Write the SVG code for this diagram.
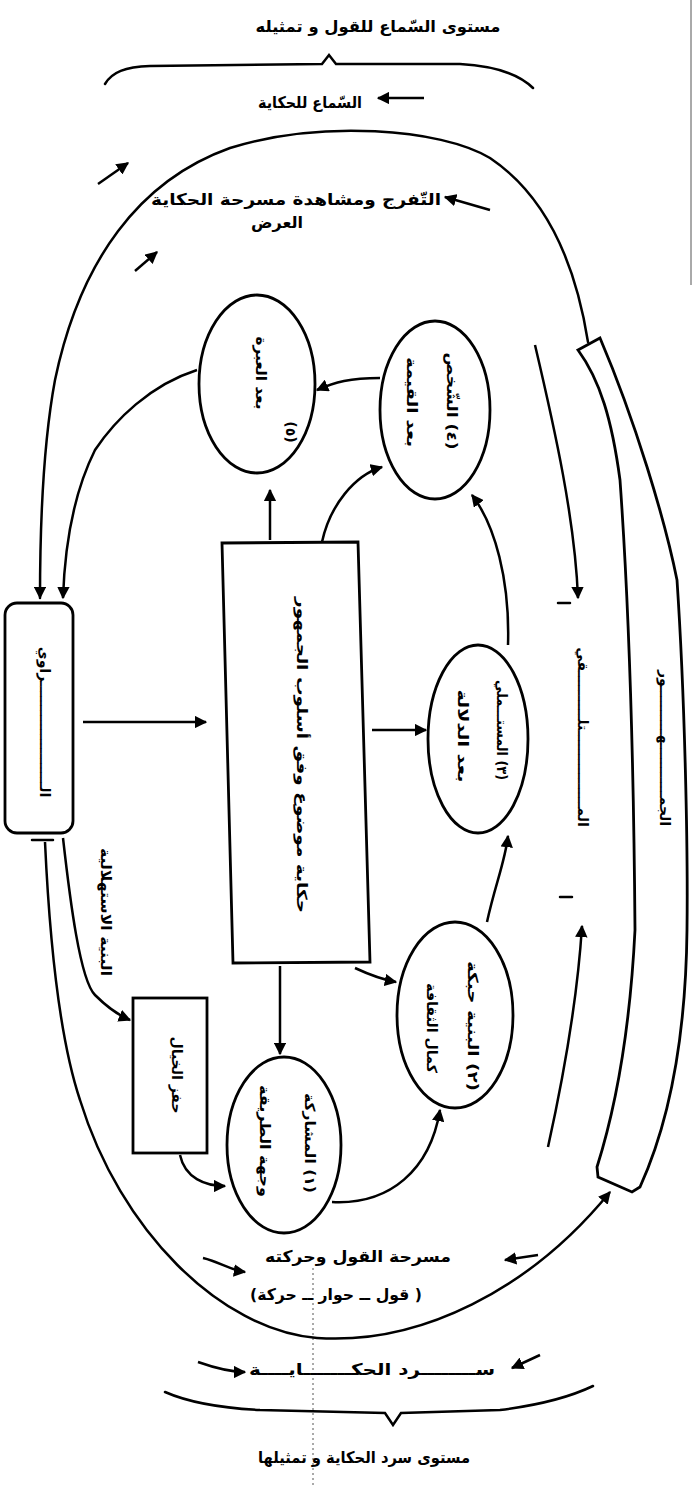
<svg xmlns="http://www.w3.org/2000/svg" width="695" height="1485" viewBox="0 0 695 1485">
<defs>
<marker id="ah" viewBox="0 0 10 10" refX="9" refY="5" markerWidth="5" markerHeight="5" orient="auto-start-reverse" markerUnits="strokeWidth"><path d="M0,0 L10,5 L0,10 z" fill="#000"/></marker>
<style>
.ln{fill:none;stroke:#000;stroke-width:2.5;stroke-linecap:round}
.ar{fill:none;stroke:#000;stroke-width:2.5;marker-end:url(#ah)}
.nd{fill:#fff;stroke:#000;stroke-width:2.8}
.t{font-family:"DejaVu Sans",sans-serif;font-size:16px;fill:#000;font-weight:bold}
.v{font-family:"DejaVu Sans",sans-serif;font-size:14px;fill:#000;font-weight:bold}
.scan{fill:none;stroke:#555;stroke-width:1}
</style>
</defs>
<rect width="695" height="1485" fill="#fff"/>

<g id="scan-marks">
<line class="scan" x1="691" y1="0" x2="691" y2="285"/>
<line class="scan" x1="313" y1="1268" x2="313" y2="1485" stroke-dasharray="2 3"/>
</g>

<g id="labels">
<text class="t" x="378" y="32" text-anchor="middle" direction="rtl" textLength="245" lengthAdjust="spacingAndGlyphs">مستوى السّماع للقول و تمثيله</text>
<text class="t" x="310" y="108" text-anchor="middle" direction="rtl" textLength="104" lengthAdjust="spacingAndGlyphs">السّماع للحكاية</text>
<text class="t" x="296" y="205" text-anchor="middle" direction="rtl" textLength="290" lengthAdjust="spacingAndGlyphs">التّفرج ومشاهدة مسرحة الحكاية</text>
<text class="t" x="277" y="228" text-anchor="middle" direction="rtl">العرض</text>
<text class="t" x="358" y="1262" text-anchor="middle" direction="rtl" textLength="186" lengthAdjust="spacingAndGlyphs">مسرحة القول وحركته</text>
<text class="t" x="336" y="1300" text-anchor="middle" direction="rtl" textLength="172" lengthAdjust="spacingAndGlyphs">( قول ــ حوار ــ حركة)</text>
<text class="t" x="372" y="1375" text-anchor="middle" direction="rtl" textLength="246" lengthAdjust="spacingAndGlyphs">ســــــــرد الحكـــــــايــــة</text>
<text class="t" x="364" y="1463" text-anchor="middle" direction="rtl" textLength="212" lengthAdjust="spacingAndGlyphs">مستوى سرد الحكاية و تمثيلها</text>
<text class="v" transform="translate(101,912) rotate(90)" text-anchor="middle" direction="rtl" textLength="128" lengthAdjust="spacingAndGlyphs">البنية الاستهلالية</text>
<text class="v" transform="translate(578,737) rotate(90)" text-anchor="middle" direction="rtl">المــــــــــــــــتلــــــــــقي</text>
</g>

<g id="braces">
<path class="ln" d="M105,84 C112,72 125,67 150,66 L322,64 L329,55 L336,64 L460,64 C495,66 520,75 533,88"/>
<path class="ln" d="M165,1392 C190,1403 220,1408 260,1410 L385,1413 L393,1425 L401,1413 L500,1410 C540,1405 570,1397 593,1386"/>
</g>

<g id="node-rawi">
<rect class="nd" x="5" y="603" width="68" height="230" rx="12"/>
<text class="v" transform="translate(40,722) rotate(90)" text-anchor="middle" direction="rtl">الــــــــــــــــــــــراوي</text>
</g>

<g id="node-center">
<polygon class="nd" points="222,543 358,542 370,962 233,963"/>
<text class="v" transform="translate(297,755) rotate(90)" text-anchor="middle" direction="rtl" textLength="316" lengthAdjust="spacingAndGlyphs">حكاية موضوع وفق أسلوب الجمهور</text>
</g>

<g id="node-small">
<rect class="nd" x="133" y="998" width="74" height="155"/>
<text class="v" transform="translate(172,1075) rotate(90)" text-anchor="middle" direction="rtl">حفز الخيال</text>
</g>

<g id="node-e1">
<ellipse class="nd" cx="284" cy="1145" rx="57" ry="88"/>
<text class="v" transform="translate(305,1143) rotate(90)" text-anchor="middle" direction="rtl" textLength="100" lengthAdjust="spacingAndGlyphs">(١) المشاركة</text>
<text class="v" transform="translate(260,1141) rotate(90)" text-anchor="middle" direction="rtl" textLength="112" lengthAdjust="spacingAndGlyphs">وجهة الطريقة</text>
</g>

<g id="node-e2">
<ellipse class="nd" cx="455" cy="1015" rx="58" ry="93"/>
<text class="v" transform="translate(468,1026) rotate(90)" text-anchor="middle" direction="rtl" textLength="130" lengthAdjust="spacingAndGlyphs">(٢) البنية حبكة</text>
<text class="v" transform="translate(427,1028) rotate(90)" text-anchor="middle" direction="rtl" textLength="90" lengthAdjust="spacingAndGlyphs">كمال الثقافة</text>
</g>

<g id="node-e3">
<ellipse class="nd" cx="478" cy="739" rx="50" ry="94"/>
<text class="v" transform="translate(497,730) rotate(90)" text-anchor="middle" direction="rtl" textLength="100" lengthAdjust="spacingAndGlyphs">(٣) المستـــملي</text>
<text class="v" transform="translate(458,736) rotate(90)" text-anchor="middle" direction="rtl" textLength="93" lengthAdjust="spacingAndGlyphs">بعد الدلالة</text>
</g>

<g id="node-e4">
<ellipse class="nd" cx="435" cy="410" rx="55" ry="89"/>
<text class="v" transform="translate(447,401) rotate(90)" text-anchor="middle" direction="rtl" textLength="97" lengthAdjust="spacingAndGlyphs">(٤) الشّخص</text>
<text class="v" transform="translate(407,402) rotate(90)" text-anchor="middle" direction="rtl" textLength="90" lengthAdjust="spacingAndGlyphs">بعد القيمة</text>
</g>

<g id="node-e5">
<ellipse class="nd" cx="257" cy="384" rx="58" ry="89"/>
<text class="v" transform="translate(256,373) rotate(90)" text-anchor="middle" direction="rtl" textLength="73" lengthAdjust="spacingAndGlyphs">بعد العبرة</text>
<text class="v" transform="translate(286,432) rotate(90)" text-anchor="middle" direction="rtl" font-size="11">(٥)</text>
</g>

<g id="node-band">
<path class="nd" d="M578,350 L600,338 C635,420 665,520 677,580 C685,700 688,850 687,930 C686,1020 675,1110 640,1187 L632,1192 L598,1177 L597,1167 C615,1110 630,1030 635,930 C634,800 630,620 620,480 C612,420 600,380 578,350 z"/>
<text class="v" transform="translate(660,748) rotate(90)" text-anchor="middle" direction="rtl">الجمـــــــــــهــــــــــور</text>
</g>

<g id="connectors">
<path class="ln" d="M588,342 C575,260 545,195 490,158 C440,128 320,120 230,148 C140,180 80,260 55,380 C42,450 40,530 40,598" marker-end="url(#ah)"/>
<path class="ar" d="M45,842 C50,950 60,1040 80,1100 C120,1230 220,1330 317,1338 C420,1345 530,1290 610,1192"/>
<line class="ln" x1="32" y1="840" x2="53" y2="840" stroke-width="4"/>
<path class="ar" d="M197,370 C150,385 115,420 95,450 C75,490 65,540 63,598"/>
<path class="ar" d="M83,722 L206,722"/>
<path class="ar" d="M63,838 C70,900 80,980 95,995 C108,1008 118,1015 130,1020"/>
<path class="ar" d="M180,1155 C185,1178 205,1186 225,1186"/>
<path class="ar" d="M270,540 L270,490"/>
<path class="ar" d="M322,542 C330,505 355,475 382,467"/>
<path class="ar" d="M380,378 C350,378 335,382 317,390"/>
<path class="ar" d="M508,645 C510,580 495,525 472,495"/>
<path class="ar" d="M372,730 L426,730"/>
<path class="ar" d="M487,922 C495,885 505,862 508,836"/>
<path class="ar" d="M280,966 L280,1054"/>
<path class="ar" d="M355,968 C370,975 385,980 396,982"/>
<path class="ar" d="M332,1202 C390,1205 430,1170 440,1110"/>
<path class="ar" d="M535,345 C555,430 575,520 578,598"/>
<line class="ln" x1="558" y1="603" x2="570" y2="603"/>
<path class="ar" d="M548,1147 C565,1070 578,990 582,926"/>
<line class="ln" x1="560" y1="897" x2="572" y2="897"/>
<path class="ar" d="M424,98 L378,98"/>
<path class="ar" d="M490,210 L445,197"/>
<path class="ar" d="M98,184 L128,163"/>
<path class="ar" d="M135,271 L157,252"/>
<path class="ar" d="M538,1255 L505,1260"/>
<path class="ar" d="M203,1258 C220,1262 230,1270 245,1272"/>
<path class="ar" d="M540,1355 L512,1368"/>
<path class="ar" d="M198,1362 C215,1368 230,1372 245,1372"/>
</g>
</svg>
